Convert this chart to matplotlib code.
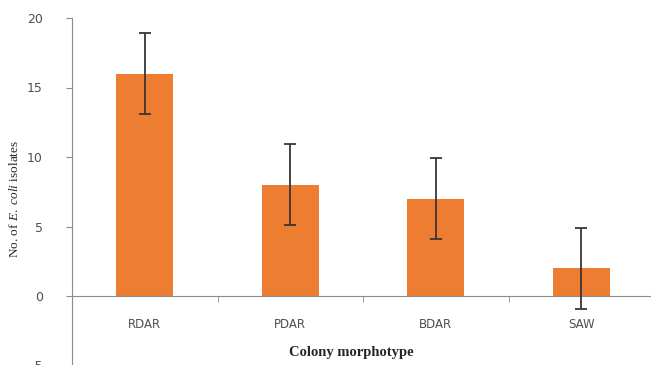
import matplotlib
matplotlib.use("Agg")
import matplotlib.pyplot as plt
import numpy as np

morphotypes = ["RDAR", "PDAR", "BDAR", "SAW"]
isolates = [16, 8, 7, 2]
errors = [2.9, 2.9, 2.9, 2.9]

plt.rcParams["mathtext.fontset"] = "custom"
plt.rcParams["mathtext.rm"] = "Liberation Serif"
plt.rcParams["mathtext.it"] = "Liberation Serif:italic"

fig = plt.figure(figsize=(6.51, 3.65), dpi=100)
# axes runs a little past the bottom/right edges of the canvas
ax = fig.add_axes([72 / 651, -0.5 / 365, 582 / 651, 347.5 / 365])

x = np.arange(len(morphotypes))
ax.bar(x, isolates, width=0.39, color="#ED7D31", zorder=2)
ax.errorbar(x, isolates, yerr=errors, fmt="none", ecolor="#3a3434",
            elinewidth=1.3, capsize=4, capthick=1.3, zorder=3)

ax.set_xlim(-0.5, len(morphotypes) - 0.5)
ax.set_ylim(-5, 20)
ax.set_yticks([-5, 0, 5, 10, 15, 20])

for side in ["top", "right"]:
    ax.spines[side].set_visible(False)
ax.spines["bottom"].set_position(("data", 0))
ax.spines["bottom"].set_color("#8c8c8c")
ax.spines["left"].set_color("#8c8c8c")

# category labels centred, tick marks on category boundaries
ax.set_xticks(x)
ax.set_xticklabels(morphotypes)
ax.set_xticks(np.arange(0.5, len(morphotypes) - 0.5), minor=True)
ax.tick_params(axis="x", which="major", length=0, pad=16,
               labelsize=8.5, labelcolor="#505050")
ax.tick_params(axis="x", which="minor", length=4, color="#8c8c8c")
ax.tick_params(axis="y", length=4, color="#8c8c8c", pad=17,
               labelsize=9, labelcolor="#505050")

ax.set_xlabel("Colony morphotype", fontfamily="Liberation Serif",
              fontweight="bold", fontsize=10.5, color="#262626")
ax.xaxis.set_label_coords(0.48, 0.056)
ax.set_ylabel(r"No. of $\mathit{E.\ coli}$ isolates",
              fontfamily="Liberation Serif", fontsize=9.5, color="#262626")
ax.yaxis.set_label_coords(-0.088, 0.48)

fig.savefig("out.png", dpi=100)
